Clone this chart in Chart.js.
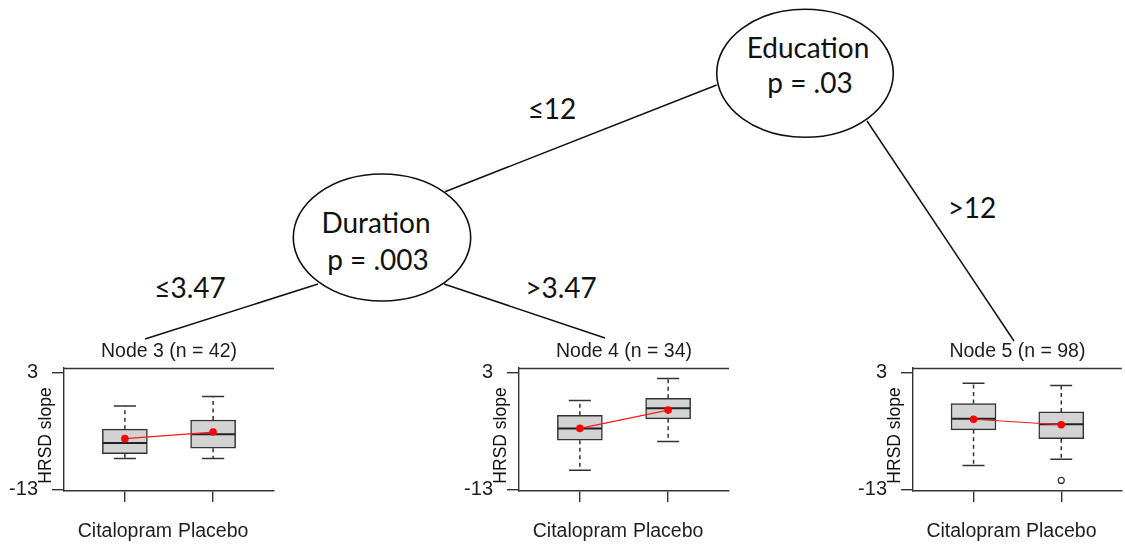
<!DOCTYPE html>
<html>
<head>
<meta charset="utf-8">
<script src="https://cdn.jsdelivr.net/npm/chart.js@4.4.1/dist/chart.umd.min.js"></script>
<style>
  html, body { margin: 0; padding: 0; background: #ffffff; }
  body { width: 1125px; height: 544px; position: relative; overflow: hidden; }
  #tree { position: absolute; left: 0; top: 0; }
  .panel { position: absolute; top: 330px; width: 278px; height: 214px; }
  .panel canvas { display: block; }
</style>
</head>
<body>
<svg id="tree" width="1125" height="544" xmlns="http://www.w3.org/2000/svg">
  <g stroke="#111" stroke-width="1.5" fill="none">
    <line x1="716.7" y1="85" x2="445" y2="191.7"/>
    <line x1="867" y1="121" x2="1014" y2="341"/>
    <line x1="318" y1="284" x2="145" y2="339"/>
    <line x1="444" y1="284" x2="605" y2="338"/>
  </g>
  <g stroke="#111" stroke-width="1.6" fill="#ffffff">
    <ellipse cx="805" cy="73.3" rx="88.3" ry="64"/>
    <ellipse cx="382" cy="237.5" rx="88.7" ry="63.5"/>
  </g>
  <g font-family="Lato, 'Open Sans', sans-serif" font-size="28" fill="#111" text-anchor="middle">
    <text x="808" y="58">Education</text>
    <text x="810" y="93">p = .03</text>
    <text x="376" y="233">Duration</text>
    <text x="378" y="270">p = .003</text>
    <text x="552" y="119">≤12</text>
    <text x="972" y="218">&gt;12</text>
    <text x="190" y="298">≤3.47</text>
    <text x="561" y="298">&gt;3.47</text>
  </g>
</svg>

<div class="panel" style="left:0px"><canvas id="c1" width="278" height="214"></canvas></div>
<div class="panel" style="left:455px"><canvas id="c2" width="278" height="214"></canvas></div>
<div class="panel" style="left:849px"><canvas id="c3" width="278" height="214"></canvas></div>

<script>
// ---------------- data ----------------
const categories = ['Citalopram', 'Placebo'];
const categoryPositions = [1, 2];
const yTickValues = [3, -13];
const yAxisTitle = 'HRSD slope';
const nodeTitles = ['Node 3 (n = 42)', 'Node 4 (n = 34)', 'Node 5 (n = 98)'];

// box stats: [lower whisker, Q1, median, Q3, upper whisker]
const node3Citalopram = [-8.7, -8.05, -6.6, -4.7, -1.55];
const node3Placebo    = [-8.7, -7.3, -5.4, -3.45, -0.25];
const node3Means      = [-6.0, -5.1];
const node3Outliers   = [[], []];

const node4Citalopram = [-10.3, -6.2, -4.6, -2.8, -0.8];
const node4Placebo    = [-6.4, -3.3, -1.85, -0.5, 2.2];
const node4Means      = [-4.6, -2.1];
const node4Outliers   = [[], []];

const node5Citalopram = [-9.65, -4.8, -3.3, -1.2, 1.55];
const node5Placebo    = [-8.8, -6.0, -4.05, -2.35, 1.25];
const node5Means      = [-3.35, -4.1];
const node5Outliers   = [[], [-11.7]];

// ---------------- styling ----------------
const INK = '#333333';
const TXT = '#1e1e1e';
const PANEL_FONT = "'Liberation Sans', Arial, sans-serif";

const boxExtras = {
  id: 'boxExtras',
  afterDatasetDraw(chart, args) {
    const ds = chart.data.datasets[args.index];
    if (!ds.boxStats) return;
    const ctx = chart.ctx;
    const xs = chart.scales.x, ys = chart.scales.y;
    const unit = Math.abs(xs.getPixelForValue(1) - xs.getPixelForValue(0));
    ds.boxStats.forEach((st, i) => {
      const xc = xs.getPixelForValue(categoryPositions[i]);
      const half = unit * 0.25;
      const cap = unit * 0.125;
      const pLo = ys.getPixelForValue(st[0]);
      const pQ1 = ys.getPixelForValue(st[1]);
      const pMed = ys.getPixelForValue(st[2]);
      const pQ3 = ys.getPixelForValue(st[3]);
      const pHi = ys.getPixelForValue(st[4]);
      ctx.save();
      ctx.strokeStyle = INK;
      ctx.lineWidth = 1.5;
      ctx.setLineDash([4, 3.5]);
      ctx.beginPath();
      ctx.moveTo(xc, pQ3); ctx.lineTo(xc, pHi);
      ctx.moveTo(xc, pQ1); ctx.lineTo(xc, pLo);
      ctx.stroke();
      ctx.setLineDash([]);
      ctx.beginPath();
      ctx.moveTo(xc - cap, pHi); ctx.lineTo(xc + cap, pHi);
      ctx.moveTo(xc - cap, pLo); ctx.lineTo(xc + cap, pLo);
      ctx.stroke();
      ctx.lineWidth = 2;
      ctx.strokeStyle = '#222';
      ctx.beginPath();
      ctx.moveTo(xc - half, pMed); ctx.lineTo(xc + half, pMed);
      ctx.stroke();
      ctx.restore();
    });
  }
};

const frameAndTitle = {
  id: 'frameAndTitle',
  afterDraw(chart) {
    const ctx = chart.ctx;
    const a = chart.chartArea;
    ctx.save();
    ctx.strokeStyle = INK;
    ctx.lineWidth = 1.4;
    ctx.beginPath();
    ctx.moveTo(a.left, a.top + 0.5);
    ctx.lineTo(a.right, a.top + 0.5);
    ctx.stroke();
    ctx.translate(a.left - 18, (a.top + a.bottom) / 2 + 6);
    ctx.rotate(-Math.PI / 2);
    ctx.fillStyle = '#111';
    ctx.font = '17.5px ' + PANEL_FONT;
    ctx.textAlign = 'center';
    ctx.textBaseline = 'middle';
    ctx.fillText(yAxisTitle, 0, 0);
    ctx.restore();
  }
};

function makePanel(id, title, cit, plac, means, outliers) {
  const stats = [cit, plac];
  const boxData = stats.map((s, i) => ({ x: categoryPositions[i], y: [s[1], s[3]] }));
  const meanData = means.map((m, i) => ({ x: categoryPositions[i], y: m }));
  const outData = [];
  outliers.forEach((arr, i) => arr.forEach(v => outData.push({ x: categoryPositions[i], y: v })));

  new Chart(document.getElementById(id), {
    data: {
      datasets: [
        {
          type: 'bar',
          data: boxData,
          boxStats: stats,
          backgroundColor: '#d3d3d3',
          borderColor: INK,
          borderWidth: 1.5,
          borderSkipped: false,
          barThickness: 45,
          order: 2
        },
        {
          type: 'line',
          data: meanData,
          borderColor: '#ff1a1a',
          borderWidth: 1.2,
          pointRadius: 3.8,
          pointBackgroundColor: '#ff0000',
          pointBorderWidth: 0,
          pointStyle: 'circle',
          order: 0
        },
        {
          type: 'scatter',
          data: outData,
          pointRadius: 3,
          pointBackgroundColor: '#ffffff',
          pointBorderColor: INK,
          pointBorderWidth: 1.2,
          order: 1
        }
      ]
    },
    options: {
      responsive: false,
      animation: false,
      devicePixelRatio: 1,
      layout: { padding: 0 },
      plugins: {
        legend: { display: false },
        tooltip: { enabled: false },
        title: {
          display: true,
          text: title,
          fullSize: false,
          color: TXT,
          font: { family: PANEL_FONT, size: 19.5, weight: 'normal', lineHeight: 1.2 },
          padding: { top: 10, bottom: 4.6 }
        }
      },
      scales: {
        x: {
          type: 'linear',
          min: 0.31,
          max: 2.69,
          offset: false,
          afterBuildTicks: s => { s.ticks = categoryPositions.map(v => ({ value: v })); },
          afterFit: s => { s.height = 53; },
          ticks: {
            callback: v => categories[categoryPositions.indexOf(v)],
            color: TXT,
            font: { family: PANEL_FONT, size: 19.5 },
            padding: 18,
            maxRotation: 0,
            autoSkip: false
          },
          grid: { offset: false, drawOnChartArea: false, drawTicks: true, tickLength: 11, color: INK, lineWidth: 1.4 },
          border: { display: true, color: INK, width: 1.4 }
        },
        y: {
          type: 'linear',
          min: -13.14,
          max: 3.64,
          afterBuildTicks: s => { s.ticks = yTickValues.map(v => ({ value: v })); },
          afterFit: s => { s.width = 64; },
          ticks: {
            callback: v => String(v),
            color: TXT,
            font: { family: PANEL_FONT, size: 20 },
            padding: 14
          },
          grid: { drawOnChartArea: false, drawTicks: true, tickLength: 12, color: INK, lineWidth: 1.4 },
          border: { display: true, color: INK, width: 1.4 }
        }
      }
    },
    plugins: [boxExtras, frameAndTitle]
  });
}

makePanel('c1', nodeTitles[0], node3Citalopram, node3Placebo, node3Means, node3Outliers);
makePanel('c2', nodeTitles[1], node4Citalopram, node4Placebo, node4Means, node4Outliers);
makePanel('c3', nodeTitles[2], node5Citalopram, node5Placebo, node5Means, node5Outliers);
</script>
</body>
</html>
